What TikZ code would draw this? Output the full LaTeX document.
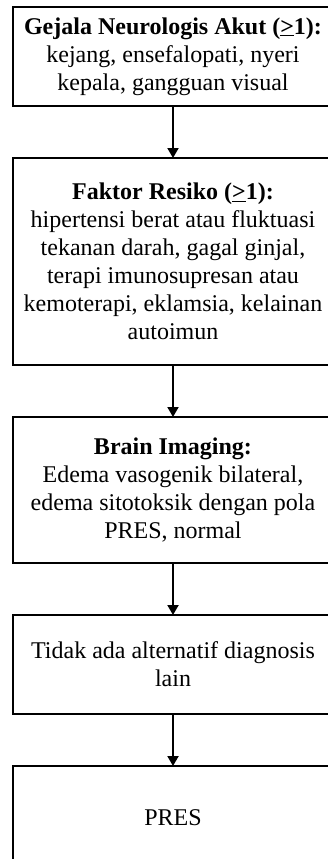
\documentclass[tikz,border=0pt]{standalone}
\usepackage{fontspec}
\setmainfont{Liberation Serif}
\usetikzlibrary{positioning,arrows.meta}
\tikzset{
    flow-box/.style = {draw=black, line width=2.5pt, rectangle, minimum width=320pt, inner sep=2pt, outer sep=0pt, align=center, font=\fontsize{24}{28}\selectfont},
    flow-arrow/.style = {line width=2pt, -{Triangle[width=11pt,length=10pt]}},
}

\begin{document}
\begin{tikzpicture}[x=1pt,y=1pt,node distance=52pt]
\useasboundingbox (0,0) rectangle (327,-859);
\node [flow-box, minimum height=99pt] (symptoms) at (173,-56.5) {\textbf{Gejala Neurologis Akut (\underline{>}1):}\\
    kejang, ensefalopati, nyeri\\
    kepala, gangguan visual};
\node [flow-box, minimum height=207pt, below=of symptoms] (risk) {\textbf{Faktor Resiko (\underline{>}1):}\\
    hipertensi berat atau fluktuasi\\
    tekanan darah, gagal ginjal,\\
    terapi imunosupresan atau\\
    kemoterapi, eklamsia, kelainan\\
    autoimun};
\node [flow-box, minimum height=146pt, below=of risk] (imaging) {\textbf{Brain Imaging:}\\
    Edema vasogenik bilateral,\\
    edema sitotoksik dengan pola\\
    PRES, normal};
\node [flow-box, minimum height=99pt, below=of imaging] (nodiff) {Tidak ada alternatif diagnosis\\
    lain};
\node [flow-box, minimum height=104pt, below=of nodiff] (pres) {PRES};
% arrows
\draw [flow-arrow] (symptoms) -- (risk);
\draw [flow-arrow] (risk) -- (imaging);
\draw [flow-arrow] (imaging) -- (nodiff);
\draw [flow-arrow] (nodiff) -- (pres);
\end{tikzpicture}
\end{document}
